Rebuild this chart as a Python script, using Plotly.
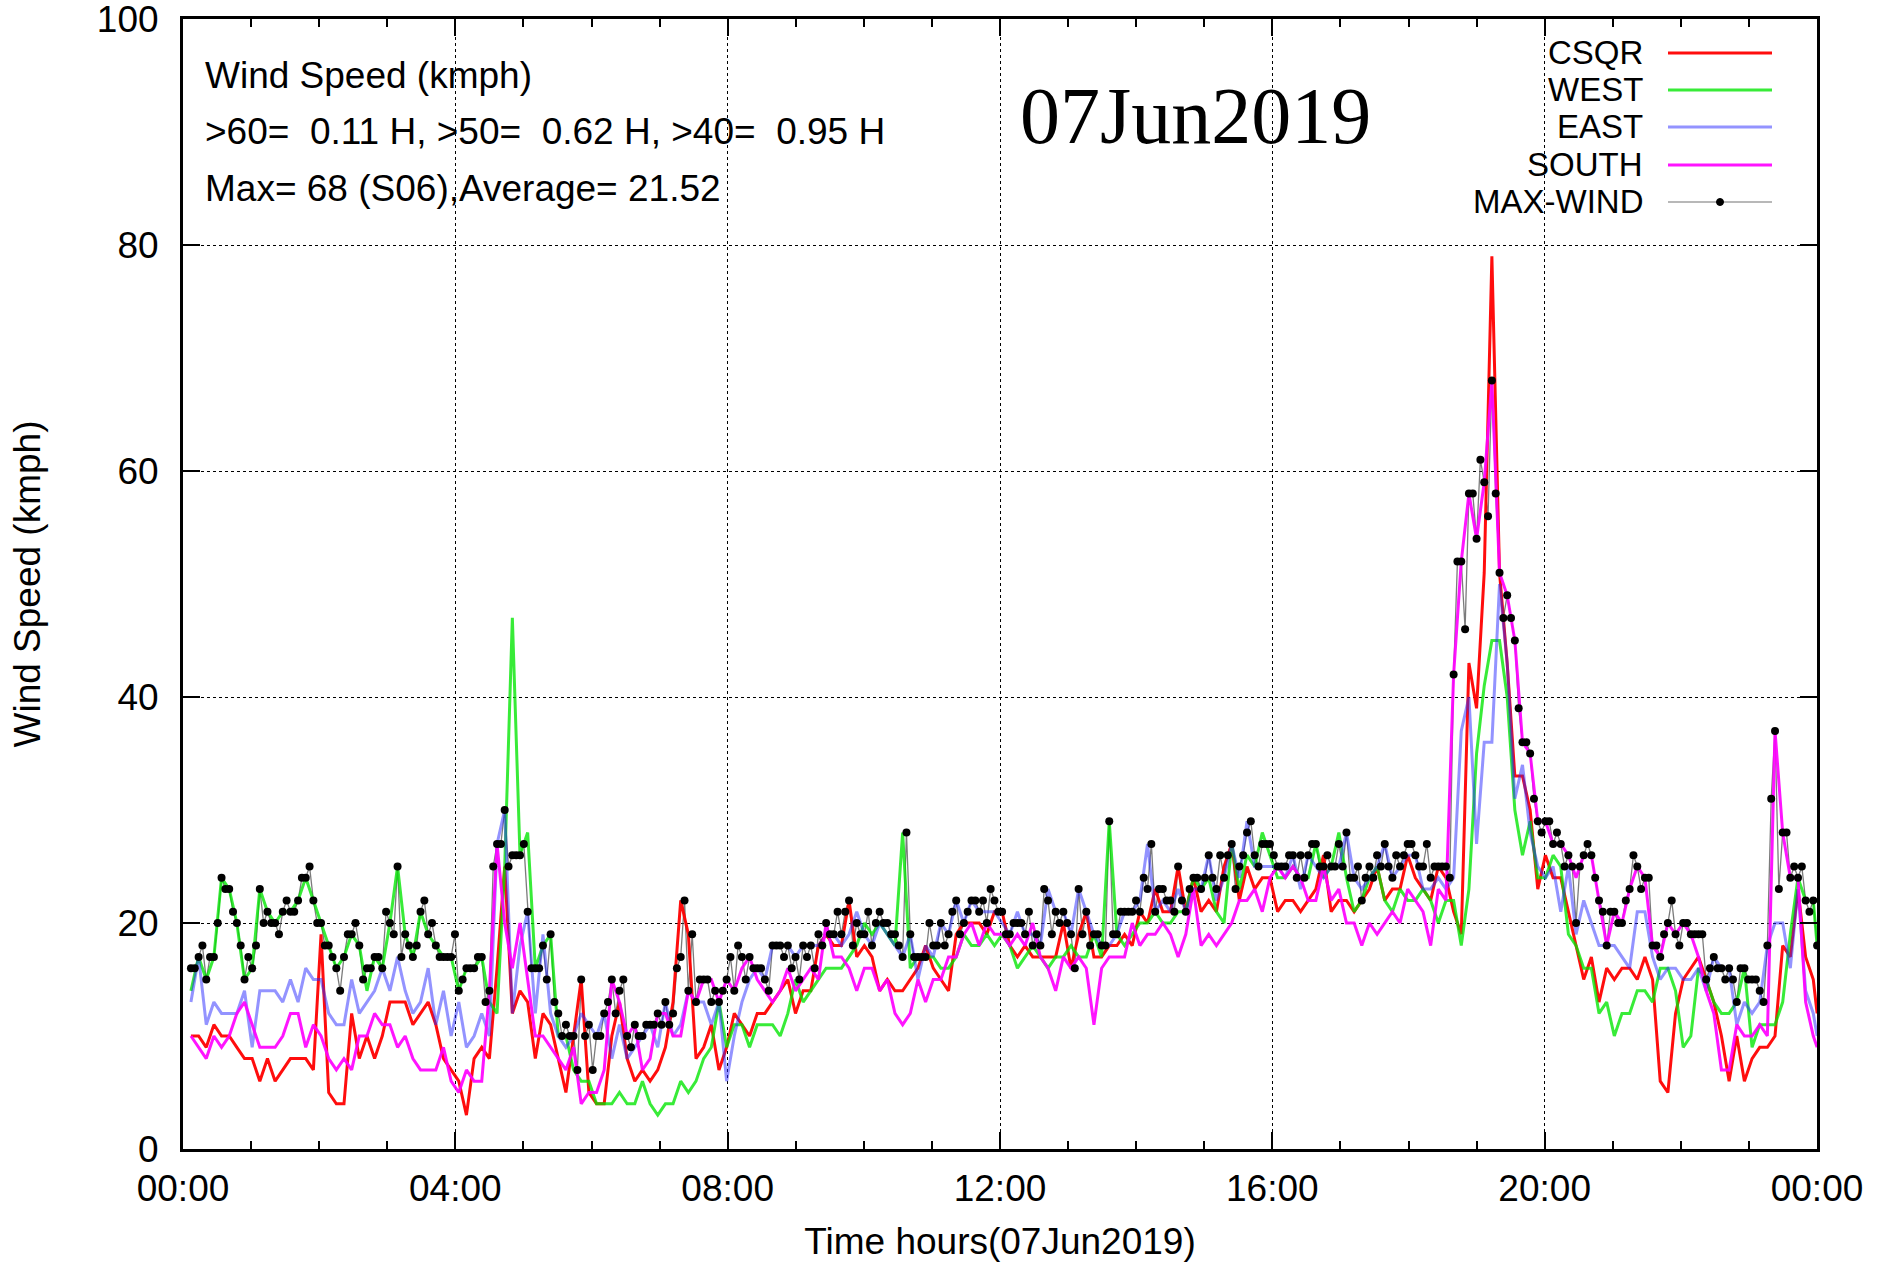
import plotly.graph_objects as go

# ---------------- data ----------------
# sample times: first reading at 00:07, then every ~3.37 minutes
START_MIN = 7.0
STEP_MIN = 3.372

MAX_WIND = [
    16,16,17,18,15,17,17,20,24,23,23,21,20,18,15,17,16,18,23,20,21,20,20,19,21,22,21,21,22,24,24,25,22,20,20,18,18,17,16,14,17,19,19,20,18,15,16,16,17,17,16,21,20,
    19,25,17,19,18,17,18,21,22,19,20,18,17,17,17,17,19,14,15,16,16,16,17,17,13,14,25,27,27,30,25,26,26,26,27,21,16,16,16,18,15,19,13,12,10,11,10,10,7,15,10,11,7,10,
    10,12,13,15,12,14,15,10,9,11,10,10,11,11,11,12,11,13,11,12,16,17,22,14,19,13,15,15,15,13,14,13,14,15,17,14,18,17,15,17,16,16,16,15,14,18,18,18,17,18,16,17,
    15,18,17,18,16,19,18,20,19,19,21,19,21,22,18,20,19,19,21,18,20,21,20,20,19,19,18,17,28,19,17,17,17,17,20,18,18,20,18,19,21,22,19,20,21,22,22,21,22,20,23,
    22,21,21,19,19,20,20,20,19,21,18,19,18,23,22,19,21,20,21,20,19,16,23,19,21,18,19,19,18,18,29,19,19,21,21,21,21,22,21,24,23,27,21,23,23,22,22,21,25,22,21,23,24,24,
    23,24,26,24,23,26,24,26,27,23,25,26,28,29,26,25,27,27,27,26,25,25,25,26,26,24,26,24,26,27,27,25,25,26,25,25,27,25,28,24,24,25,22,24,25,24,26,25,27,25,24,26,25,26,27,27,
    26,25,25,27,24,25,25,25,25,24,42,52,52,46,58,58,54,61,59,56,68,58,51,47,49,47,45,39,36,36,35,31,29,28,29,29,27,28,27,25,26,25,20,25,26,27,26,24,22,21,18,21,21,
    20,20,22,23,26,25,23,24,24,18,18,17,19,20,22,19,18,20,20,19,19,19,19,15,16,17,16,16,15,16,15,13,16,16,15,15,15,14,13,18,31,37,23,28,28,24,25,24,25,22,21,22,18,
]

# station series, read at every second sample time (plus the last one)
CSQR = [
    10,10,9,11,10,10,9,8,8,6,8,6,7,8,8,8,7,19,5,4,4,12,8,10,8,10,13,
    13,13,11,12,13,11,8,7,6,3,8,9,8,16,25,12,14,13,8,12,11,8,5,10,15,5,4,
    4,10,13,8,6,7,6,7,9,13,22,19,8,9,11,7,9,12,11,10,12,12,13,14,15,12,
    14,14,18,19,18,18,22,17,18,17,14,15,14,14,15,16,18,16,15,14,19,20,20,20,19,21,21,
    18,17,18,17,17,17,17,20,16,19,21,17,17,18,18,19,18,21,20,23,21,21,25,21,24,21,
    22,21,25,27,22,25,23,24,24,21,22,22,21,22,23,26,21,22,22,21,22,23,25,22,23,23,26,
    24,23,22,25,24,21,19,43,39,51,79,51,43,33,33,30,23,26,24,24,21,18,15,17,13,16,15,
    16,16,15,17,15,6,5,12,15,16,17,15,13,10,6,10,6,8,9,9,10,18,17,23,17,15,
    12,
]
WEST = [
    14,17,15,17,24,23,20,15,16,23,21,20,21,21,22,24,22,20,18,16,17,19,18,14,17,16,20,
    25,19,17,21,19,18,17,17,14,16,16,17,13,12,25,47,26,28,16,18,19,10,10,7,6,6,4,
    4,4,5,4,4,6,4,3,4,4,6,5,6,8,9,13,9,11,11,9,11,11,11,10,12,15,
    13,14,15,16,16,16,17,18,20,19,20,19,18,28,16,17,17,17,16,16,17,19,18,18,19,18,19,
    18,16,17,18,17,16,17,17,18,17,17,19,17,29,19,18,19,20,20,21,20,20,21,21,24,23,
    24,21,20,27,23,26,25,28,26,24,24,25,24,24,27,24,25,28,24,21,22,24,25,22,21,23,22,
    22,23,22,20,22,22,18,23,35,41,45,45,40,30,26,29,24,24,26,25,19,18,16,16,12,13,10,
    12,12,14,14,13,16,16,14,9,10,16,15,13,12,12,13,16,9,11,11,11,13,19,24,22,22,
    18,
]
EAST = [
    13,17,11,13,12,12,12,14,9,14,14,14,13,15,13,16,15,15,12,11,11,15,12,13,14,16,14,
    17,14,12,13,16,11,14,10,13,9,10,12,10,27,30,12,18,21,12,19,12,10,9,10,12,11,10,
    12,8,11,8,9,10,11,9,13,10,11,14,13,13,11,13,6,10,13,15,16,15,18,18,18,17,
    18,18,18,19,19,18,19,21,19,18,20,19,18,17,19,15,18,17,20,19,22,20,22,21,21,21,20,
    19,21,19,19,18,23,21,21,19,23,21,19,18,18,19,21,21,22,27,21,22,21,23,21,23,23,
    26,22,24,27,24,29,25,25,25,25,24,26,23,26,25,24,25,25,28,24,23,24,25,27,24,25,26,
    26,23,23,24,23,24,37,40,27,36,36,50,43,31,34,28,25,24,25,21,25,19,22,20,18,18,18,
    17,16,21,21,17,15,16,16,15,15,16,14,17,16,16,11,13,12,13,18,20,20,16,23,14,12,
    10,
]
SOUTH = [
    10,9,8,10,9,10,12,13,11,9,9,9,10,12,12,9,11,10,8,7,8,7,10,10,12,11,11,
    9,10,8,7,7,7,9,6,5,7,6,6,14,27,20,16,20,15,10,10,9,8,7,9,4,5,5,
    7,15,13,10,11,7,8,12,12,10,10,14,13,15,15,13,15,14,16,17,15,14,13,14,16,14,
    15,16,15,20,17,17,16,14,16,16,14,15,12,11,12,15,13,15,15,17,17,19,20,18,20,19,19,
    18,19,18,20,17,16,14,17,16,17,16,11,16,17,17,17,20,18,19,19,20,19,17,19,23,18,
    19,18,19,20,22,22,23,21,24,25,24,25,24,22,22,25,22,23,20,20,18,20,19,20,21,20,23,
    22,21,18,23,22,42,52,58,54,59,68,51,49,45,36,35,29,29,27,27,26,24,26,26,22,18,21,
    20,23,25,24,18,17,20,19,20,19,17,14,12,7,7,11,10,10,11,10,37,28,24,24,13,10,
    9,
]

X_TICK_VALUES = [0, 4, 8, 12, 16, 20, 24]
X_TICK_LABELS = ["00:00", "04:00", "08:00", "12:00", "16:00", "20:00", "00:00"]
Y_TICK_VALUES = [0, 20, 40, 60, 80, 100]
SERIES_NAMES = ["CSQR", "WEST", "EAST", "SOUTH"]
INFO_LINES = [
    "Wind Speed (kmph)",
    ">60=  0.11 H, >50=  0.62 H, >40=  0.95 H",
    "Max= 68 (S06),Average= 21.52",
]
DATE_LABEL = "07Jun2019"

# ---------------- derived time axes ----------------
N = len(MAX_WIND)
dot_hours = [(START_MIN + STEP_MIN * k) / 60.0 for k in range(N)]
line_idx = list(range(0, N - 1, 2)) + [N - 1]
line_hours = [dot_hours[k] for k in line_idx]

# ---------------- styles ----------------
SANS = "Liberation Sans, Arial, sans-serif"
SERIF = "Liberation Serif, Times New Roman, serif"
FS = 37
LEG_FS = 33
COLORS = {
    "CSQR": "rgba(255,0,0,0.95)",
    "WEST": "rgba(0,230,0,0.78)",
    "EAST": "rgba(40,40,255,0.5)",
    "SOUTH": "rgba(255,0,255,0.92)",
}
GREY = "rgba(90,90,90,0.8)"
LW = 3

fig = go.Figure()

# max-wind connecting line (under the station lines)
fig.add_trace(go.Scatter(x=dot_hours, y=MAX_WIND, mode="lines",
                         line=dict(color=GREY, width=1.3), showlegend=False,
                         hoverinfo="skip"))

for name, vals in zip(SERIES_NAMES, [CSQR, WEST, EAST, SOUTH]):
    fig.add_trace(go.Scatter(x=line_hours, y=vals, mode="lines", name=name,
                             line=dict(color=COLORS[name], width=LW),
                             showlegend=False))

fig.add_trace(go.Scatter(x=dot_hours, y=MAX_WIND, mode="markers", name="MAX-WIND",
                         marker=dict(color="black", size=8), showlegend=False))

# ---------------- layout ----------------
W, H = 1886, 1264
PL, PT, PR, PB = 183, 19, 69, 115
PW, PH = W - PL - PR, H - PT - PB


def px_x(px):
    return (px - PL) / PW


def px_y(py):
    return (H - PB - py) / PH


fig.update_layout(
    width=W, height=H,
    margin=dict(l=PL, r=PR, t=PT, b=PB, autoexpand=False),
    paper_bgcolor="white", plot_bgcolor="white",
    font=dict(family=SANS, size=FS, color="black"),
    showlegend=False,
    xaxis=dict(
        range=[0, 24], tickvals=X_TICK_VALUES, ticktext=X_TICK_LABELS,
        ticks="inside", ticklen=17, tickwidth=2, tickcolor="black",
        minor=dict(dtick=1, ticks="inside", ticklen=8, tickwidth=2,
                   tickcolor="black", showgrid=False),
        showgrid=True, gridcolor="black", gridwidth=1, griddash="dot",
        showline=True, linecolor="black", linewidth=3, mirror="allticks",
        zeroline=False, tickfont=dict(size=FS), ticklabelstandoff=5,
        ticklabeloverflow="allow", automargin=False,
        title=dict(text="Time hours(07Jun2019)", font=dict(size=FS), standoff=20),
    ),
    yaxis=dict(
        range=[0, 100], tickvals=Y_TICK_VALUES,
        ticks="inside", ticklen=17, tickwidth=2, tickcolor="black",
        showgrid=True, gridcolor="black", gridwidth=1, griddash="dot",
        showline=True, linecolor="black", linewidth=3, mirror="allticks",
        zeroline=False, tickfont=dict(size=FS), ticklabelstandoff=14,
        ticklabeloverflow="allow", automargin=False,
        title=dict(text="Wind Speed (kmph)", font=dict(size=FS), standoff=45),
    ),
)

# info text block (top-left)
for txt, py in zip(INFO_LINES, [75, 131, 188]):
    fig.add_annotation(x=px_x(203), y=px_y(py), xref="paper", yref="paper",
                       text=txt, showarrow=False, xanchor="left", yanchor="middle",
                       font=dict(family=SANS, size=FS, color="black"))

# big date label
fig.add_annotation(x=px_x(1018), y=px_y(116), xref="paper", yref="paper",
                   text=DATE_LABEL, showarrow=False, xanchor="left", yanchor="middle",
                   font=dict(family=SERIF, size=80, color="black"))

# manual legend: text right-aligned, sample on the right
legend_rows = SERIES_NAMES + ["MAX-WIND"]
legend_py = [53, 90, 127, 165, 202]
x_text = px_x(1644)
x0, x1 = px_x(1668), px_x(1772)
for name, py in zip(legend_rows, legend_py):
    fig.add_annotation(x=x_text, y=px_y(py), xref="paper", yref="paper",
                       text=name, showarrow=False, xanchor="right", yanchor="middle",
                       borderpad=0,
                       font=dict(family=SANS, size=LEG_FS, color="black"))
    if name in COLORS:
        fig.add_shape(type="line", xref="paper", yref="paper",
                      x0=x0, x1=x1, y0=px_y(py), y1=px_y(py),
                      line=dict(color=COLORS[name], width=LW))
    else:
        fig.add_shape(type="line", xref="paper", yref="paper",
                      x0=x0, x1=x1, y0=px_y(py), y1=px_y(py),
                      line=dict(color="rgba(150,150,150,0.9)", width=1.3))
        cx, cy = px_x(1720), px_y(py)
        rx, ry = 3.5 / PW, 3.5 / PH
        fig.add_shape(type="circle", xref="paper", yref="paper",
                      x0=cx - rx, x1=cx + rx, y0=cy - ry, y1=cy + ry,
                      fillcolor="black", line=dict(color="black", width=1))

# remove the default page margin so the figure sits at the window's corner
fig.write_html("out.html",
               config={"displayModeBar": False},
               post_script="document.body.style.margin='0';"
                           "document.body.style.overflow='hidden';")
